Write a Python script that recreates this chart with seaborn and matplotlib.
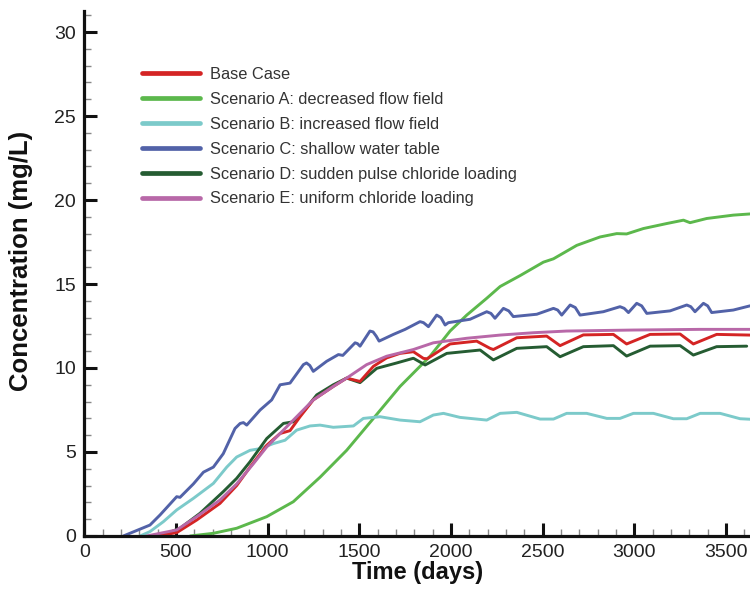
import matplotlib
matplotlib.use("Agg")
import matplotlib.pyplot as plt
from matplotlib.lines import Line2D
from matplotlib.ticker import MultipleLocator
import numpy as np
import pandas as pd
import seaborn as sns

# Chloride concentration over time for each simulation scenario
labels = [
    "Base Case",
    "Scenario A: decreased flow field",
    "Scenario B: increased flow field",
    "Scenario C: shallow water table",
    "Scenario D: sudden pulse chloride loading",
    "Scenario E: uniform chloride loading",
]
colors = ["#d42424", "#5cb84c", "#7ccaca", "#5262a8", "#255c32", "#b868a8"]

t_base = [395, 504, 613, 740, 831, 904, 995, 1068, 1122, 1177, 1249, 1358, 1431, 1504,
          1577, 1649, 1722, 1795, 1850, 1870, 1995, 2140, 2213, 2231, 2359, 2522, 2595,
          2722, 2886, 2958, 3086, 3250, 3322, 3449, 3631]
c_base = [0.0, 0.2, 0.95, 1.94, 3.0, 4.1, 5.4, 6.1, 6.27, 7.1, 8.1, 8.9, 9.4, 9.2,
          10.1, 10.6, 10.87, 10.97, 10.57, 10.55, 11.43, 11.6, 11.17, 11.1, 11.8, 11.9, 11.33,
          11.97, 12.0, 11.43, 12.0, 12.02, 11.43, 12.0, 11.96]

t_a = [577, 704, 831, 995, 1140, 1286, 1431, 1577, 1722, 1886, 1995, 2086, 2195, 2268,
       2377, 2504, 2559, 2686, 2813, 2904, 2958, 3049, 3177, 3268, 3304, 3395, 3540, 3631]
c_a = [0.0, 0.16, 0.46, 1.15, 2.04, 3.5, 5.1, 7.0, 8.9, 10.7, 12.2, 13.15, 14.15, 14.85,
       15.5, 16.3, 16.5, 17.3, 17.8, 18.0, 17.98, 18.3, 18.6, 18.8, 18.65, 18.9, 19.1, 19.17]

t_b = [304, 358, 431, 504, 595, 704, 777, 831, 904, 959, 1031, 1095, 1158, 1231, 1286,
       1358, 1468, 1522, 1613, 1722, 1831, 1904, 1959, 2049, 2195, 2268, 2359, 2486, 2559,
       2631, 2740, 2850, 2922, 2995, 3104, 3213, 3286, 3359, 3468, 3577, 3631]
c_b = [0.0, 0.26, 0.85, 1.55, 2.24, 3.13, 4.1, 4.7, 5.1, 5.2, 5.5, 5.7, 6.3, 6.55, 6.6,
       6.47, 6.55, 7.0, 7.1, 6.9, 6.8, 7.2, 7.3, 7.06, 6.9, 7.3, 7.36, 6.96, 6.96,
       7.3, 7.3, 7.0, 7.0, 7.3, 7.3, 6.98, 6.98, 7.3, 7.3, 6.98, 6.95]

t_c = [213, 358, 413, 504, 522, 595, 650, 704, 758, 822, 850, 868, 886, 959, 1022, 1068,
       1122, 1195, 1212, 1230, 1249, 1322, 1386, 1410, 1477, 1490, 1504, 1558, 1575, 1592,
       1608, 1686, 1750, 1831, 1850, 1877, 1922, 1945, 1968, 1986, 2104, 2195, 2218, 2240,
       2286, 2315, 2340, 2468, 2559, 2582, 2604, 2650, 2678, 2704, 2831, 2922, 2945, 2968,
       3013, 3040, 3068, 3195, 3286, 3308, 3331, 3377, 3400, 3422, 3540, 3631]
c_c = [0.0, 0.65, 1.25, 2.34, 2.3, 3.1, 3.8, 4.1, 4.9, 6.4, 6.7, 6.75, 6.6, 7.5, 8.1, 9.0,
       9.1, 10.2, 10.3, 10.15, 9.8, 10.4, 10.8, 10.75, 11.5, 11.45, 11.3, 12.2, 12.15, 11.9,
       11.6, 12.0, 12.3, 12.76, 12.7, 12.46, 13.15, 13.0, 12.56, 12.7, 12.9, 13.35, 13.25, 12.96,
       13.55, 13.4, 13.06, 13.2, 13.55, 13.45, 13.15, 13.75, 13.6, 13.15, 13.35, 13.65, 13.55, 13.3,
       13.85, 13.7, 13.25, 13.4, 13.75, 13.65, 13.35, 13.85, 13.7, 13.3, 13.45, 13.7]

t_d = [413, 522, 631, 758, 831, 904, 995, 1086, 1140, 1195, 1268, 1358, 1431, 1504, 1595,
       1704, 1795, 1859, 1977, 2159, 2231, 2359, 2522, 2595, 2722, 2886, 2958, 3086, 3250,
       3322, 3449, 3613]
c_d = [0.0, 0.46, 1.35, 2.64, 3.43, 4.42, 5.8, 6.7, 6.8, 7.4, 8.4, 9.0, 9.4, 9.13, 9.98,
       10.3, 10.58, 10.18, 10.87, 11.07, 10.48, 11.17, 11.27, 10.67, 11.27, 11.33, 10.71, 11.3, 11.33,
       10.77, 11.27, 11.3]

t_e = [340, 504, 613, 740, 831, 922, 995, 1104, 1249, 1358, 1431, 1540, 1649, 1722, 1795,
       1904, 2086, 2268, 2450, 2631, 2995, 3359, 3631]
c_e = [0.0, 0.36, 1.15, 2.14, 3.1, 4.3, 5.3, 6.5, 8.1, 8.9, 9.4, 10.2, 10.7, 10.9, 11.1,
       11.5, 11.77, 11.96, 12.1, 12.2, 12.26, 12.3, 12.3]

series = [(t_base, c_base), (t_a, c_a), (t_b, c_b), (t_c, c_c), (t_d, c_d), (t_e, c_e)]

frames = []
for name, (t, c) in zip(labels, series):
    frames.append(pd.DataFrame({"Time": t, "Concentration": c, "Scenario": name}))
df = pd.concat(frames, ignore_index=True)

sns.set_theme(style="white")
plt.rcParams["font.family"] = ["Liberation Sans", "DejaVu Sans"]

fig = plt.figure(figsize=(7.5, 5.89), dpi=100)
ax = fig.add_axes([0.1124, 0.09, 0.8876, 0.8913])

# Draw order: base case on top of the pulse/uniform curves
draw_order = [1, 2, 3, 4, 0, 5]
for i in draw_order:
    sub = df[df["Scenario"] == labels[i]]
    sns.lineplot(data=sub, x="Time", y="Concentration", ax=ax, color=colors[i],
                 lw=2.1, sort=False, estimator=None, legend=False)

ax.set_xlim(0, 3631)
ax.set_ylim(0, 31.25)

ax.xaxis.set_major_locator(MultipleLocator(500))
ax.xaxis.set_minor_locator(MultipleLocator(100))
ax.yaxis.set_major_locator(MultipleLocator(5))
ax.yaxis.set_minor_locator(MultipleLocator(1))

for side in ["top", "right"]:
    ax.spines[side].set_visible(False)
for side in ["left", "bottom"]:
    ax.spines[side].set_linewidth(2.3)
    ax.spines[side].set_color("#111111")

ax.tick_params(which="major", direction="in", length=9.5, width=2.2, color="#111111",
               labelsize=14, labelcolor="#222222", pad=6,
               bottom=True, left=True, top=False, right=False)
ax.tick_params(which="minor", direction="in", length=5, width=1.0, color="#888888",
               bottom=True, left=True, top=False, right=False)

ax.set_xlabel("Time (days)", fontsize=17, fontweight="bold", color="#111111", labelpad=0)
ax.set_ylabel("Concentration (mg/L)", fontsize=18.5, fontweight="bold", color="#111111")
ax.yaxis.set_label_coords(-0.077, 0.524)
ax.grid(False)

handles = [Line2D([0], [0], color=col, lw=3.4) for col in colors]
ax.legend(handles, labels, loc="upper left", bbox_to_anchor=(0.0867, 0.893),
          frameon=False, fontsize=11.8, handlelength=3.54, handletextpad=0.6,
          labelspacing=0.6, borderpad=0, borderaxespad=0, labelcolor="#333333")

fig.savefig("out.png", dpi=100)
